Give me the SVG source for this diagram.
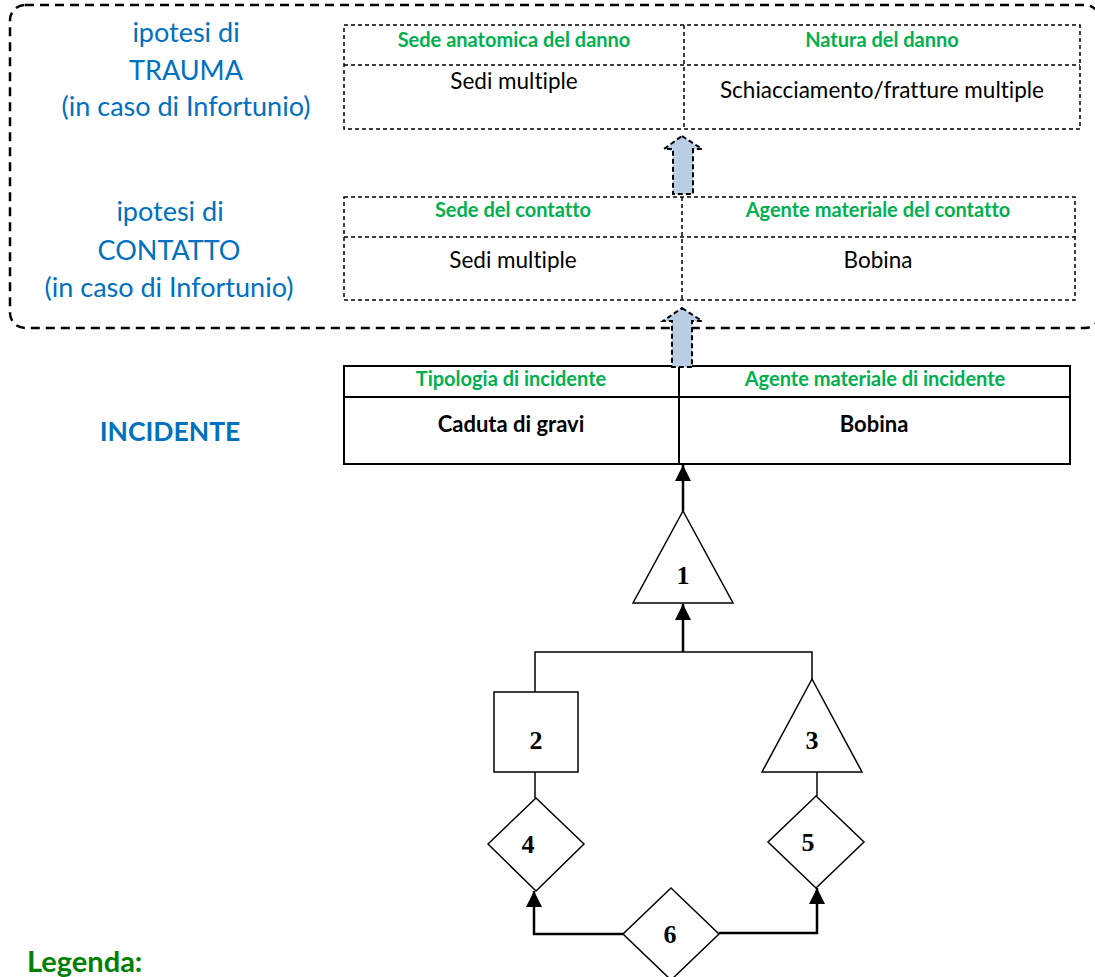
<svg xmlns="http://www.w3.org/2000/svg" width="1095" height="977" viewBox="0 0 1095 977">
<style>
text{font-variant-ligatures:none}
.blue{font-family:Lato,"Liberation Sans",sans-serif;fill:#0070C0;font-size:27px;text-anchor:middle}
.hdr{font-family:Lato,"Liberation Sans",sans-serif;font-weight:bold;fill:#00B050;font-size:20px;text-anchor:middle}
.body{font-family:Lato,"Liberation Sans",sans-serif;fill:#000;font-size:22.5px;text-anchor:middle}
.bold{font-weight:bold;font-size:22px}
.num{font-family:"Liberation Serif",serif;font-weight:bold;font-size:26px;text-anchor:middle;fill:#000}
.dtab{fill:none;stroke:#000;stroke-width:1.5;stroke-dasharray:4 3}
.stab{fill:none;stroke:#000;stroke-width:2}
.shape{fill:#fff;stroke:#000;stroke-width:1.5}
.conn{fill:none;stroke:#000;stroke-width:1.5}
.arr{fill:none;stroke:#000;stroke-width:2.5}
.blk{fill:#B9CDE5;stroke:#000;stroke-width:2;stroke-dasharray:5 3}
</style>
<defs>
<marker id="ah" viewBox="0 0 10 10" refX="10" refY="5" markerWidth="16" markerHeight="16" orient="auto" markerUnits="userSpaceOnUse">
<path d="M0,0 L10,5 L0,10 z" fill="#000"/>
</marker>
</defs>
<rect width="1095" height="977" fill="#fff"/>

<g id="hypothesis-frame">
<rect x="10" y="5" width="1090" height="323" rx="15" fill="none" stroke="#000" stroke-width="2.5" stroke-dasharray="9 6"/>
</g>

<g id="label-trauma">
<text class="blue" x="186" y="42">ipotesi di</text>
<text class="blue" x="186" y="80">TRAUMA</text>
<text class="blue" x="186" y="116">(in caso di Infortunio)</text>
</g>
<g id="label-contatto">
<text class="blue" x="170" y="221">ipotesi di</text>
<text class="blue" x="169" y="260">CONTATTO</text>
<text class="blue" x="169" y="297">(in caso di Infortunio)</text>
</g>
<g id="label-incidente">
<text class="blue" x="170" y="441" style="font-size:26.5px;font-weight:bold">INCIDENTE</text>
</g>

<g id="table-trauma">
<rect class="dtab" x="344" y="25" width="736" height="104"/>
<line class="dtab" x1="344" y1="65" x2="1080" y2="65"/>
<line class="dtab" x1="684" y1="25" x2="684" y2="129"/>
<text class="hdr" x="514" y="47">Sede anatomica del danno</text>
<text class="hdr" x="882" y="47">Natura del danno</text>
<text class="body" x="514" y="89">Sedi multiple</text>
<text class="body" x="882" y="98">Schiacciamento/fratture multiple</text>
</g>

<g id="table-contatto">
<rect class="dtab" x="344" y="197" width="731" height="103"/>
<line class="dtab" x1="344" y1="237" x2="1075" y2="237"/>
<line class="dtab" x1="682" y1="197" x2="682" y2="300"/>
<text class="hdr" x="513" y="217">Sede del contatto</text>
<text class="hdr" x="878" y="217">Agente materiale del contatto</text>
<text class="body" x="513" y="268">Sedi multiple</text>
<text class="body" x="878" y="268">Bobina</text>
</g>

<g id="table-incidente">
<rect class="stab" x="344" y="366" width="726" height="98"/>
<line class="stab" x1="344" y1="397" x2="1070" y2="397"/>
<line class="stab" x1="679" y1="366" x2="679" y2="464"/>
<text class="hdr" x="511" y="386">Tipologia di incidente</text>
<text class="hdr" x="875" y="386">Agente materiale di incidente</text>
<text class="body bold" x="511" y="432">Caduta di gravi</text>
<text class="body bold" x="874" y="432">Bobina</text>
</g>

<g id="block-arrows">
<polygon class="blk" points="682,136 702,149 693,149 693,194 673,194 673,149 664,149"/>
<polygon class="blk" points="682,308 702,321 692,321 692,367 672,367 672,321 663,321"/>
</g>

<g id="connectors">
<line class="arr" x1="683" y1="511" x2="683" y2="465" marker-end="url(#ah)"/>
<line class="arr" x1="683" y1="652" x2="683" y2="604" marker-end="url(#ah)"/>
<polyline class="conn" points="535,692 535,652 812,652 812,679"/>
<line class="conn" x1="535" y1="772" x2="535" y2="798"/>
<line class="conn" x1="817" y1="772" x2="817" y2="796"/>
<polyline class="arr" points="623,934 534,934 534,891" marker-end="url(#ah)"/>
<polyline class="arr" points="719,933 817,933 817,888" marker-end="url(#ah)"/>
</g>

<g id="node-1">
<polygon class="shape" points="683,511 733,603 633,603"/>
<text class="num" x="683" y="584">1</text>
</g>
<g id="node-2">
<rect class="shape" x="494" y="692" width="84" height="80"/>
<text class="num" x="536" y="749">2</text>
</g>
<g id="node-3">
<polygon class="shape" points="812,679 862,772 762,772"/>
<text class="num" x="812" y="749">3</text>
</g>
<g id="node-4">
<polygon class="shape" points="536,798 584,844 536,891 488,844"/>
<text class="num" x="528" y="853">4</text>
</g>
<g id="node-5">
<polygon class="shape" points="816,796 864,842 816,888 768,842"/>
<text class="num" x="808" y="851">5</text>
</g>
<g id="node-6">
<polygon class="shape" points="671,888 719,934 671,980 623,934"/>
<text class="num" x="670" y="943">6</text>
</g>

<g id="legend">
<text x="27" y="972" style="font-family:Lato,'Liberation Sans',sans-serif;font-weight:bold;font-size:29px;fill:#008000">Legenda:</text>
</g>
</svg>
